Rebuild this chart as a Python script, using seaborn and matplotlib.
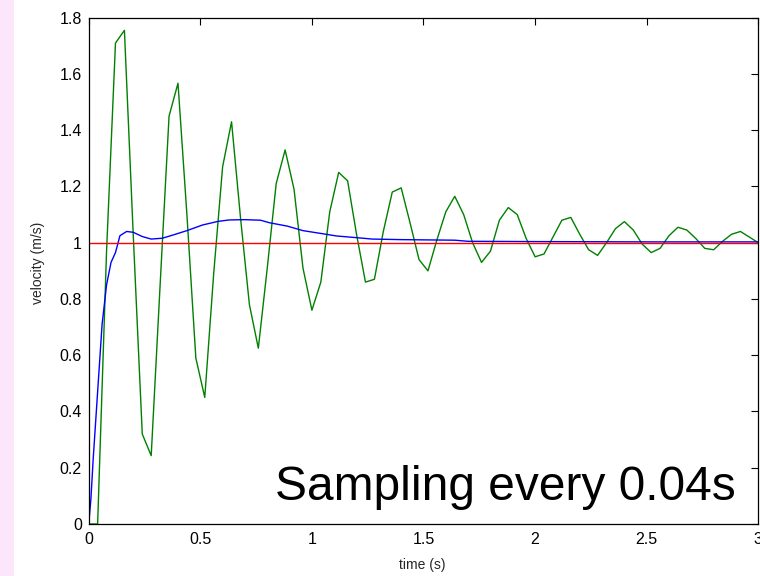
import numpy as np
import pandas as pd
import matplotlib
matplotlib.use("Agg")
import matplotlib.pyplot as plt
from matplotlib.patches import Rectangle
from matplotlib.ticker import FuncFormatter
import seaborn as sns

# ---- data ----
# sampled response (green), one value every 0.04 s from 0 to 3.0 s
sample_dt = 0.04
green_v = [0.0, 0.0, 0.97, 1.71, 1.755, 1.02, 0.32, 0.243, 0.85, 1.45,
           1.567, 1.10, 0.59, 0.45, 0.89, 1.27, 1.43, 1.09, 0.78, 0.625,
           0.91, 1.21, 1.33, 1.19, 0.91, 0.76, 0.86, 1.11, 1.25, 1.22,
           1.03, 0.86, 0.87, 1.04, 1.18, 1.195, 1.07, 0.94, 0.90, 1.01,
           1.11, 1.165, 1.10, 1.00, 0.93, 0.97, 1.08, 1.125, 1.10, 1.015,
           0.95, 0.96, 1.02, 1.08, 1.09, 1.03, 0.975, 0.955, 1.00, 1.05,
           1.075, 1.045, 0.995, 0.965, 0.98, 1.025, 1.055, 1.045, 1.015, 0.98,
           0.975, 1.005, 1.03, 1.04, 1.02, 1.00]
green_t = [round(i * sample_dt, 2) for i in range(len(green_v))]

# continuous response (blue)
blue_t = [0.0, 0.01, 0.02, 0.03, 0.04, 0.05, 0.06, 0.08, 0.10, 0.12,
          0.14, 0.17, 0.20, 0.24, 0.28, 0.33, 0.38, 0.44, 0.51, 0.58,
          0.63, 0.70, 0.77, 0.81, 0.89, 0.96, 1.04, 1.11, 1.20, 1.27,
          1.40, 1.64, 1.70, 2.0, 2.5, 3.0]
blue_v = [0.0, 0.09, 0.23, 0.35, 0.47, 0.59, 0.71, 0.85, 0.93, 0.965,
          1.025, 1.04, 1.037, 1.022, 1.013, 1.016, 1.028, 1.043, 1.063, 1.076,
          1.081, 1.082, 1.08, 1.071, 1.059, 1.043, 1.033, 1.024, 1.018, 1.013,
          1.011, 1.009, 1.005, 1.004, 1.003, 1.003]

# reference (red)
ref_t = [0.0, 3.0]
ref_v = [1.0, 1.0]

x_ticks = [0, 0.5, 1, 1.5, 2, 2.5, 3]
y_ticks = [0, 0.2, 0.4, 0.6, 0.8, 1.0, 1.2, 1.4, 1.6, 1.8]
x_label = "time (s)"
y_label = "velocity (m/s)"
note = "Sampling every 0.04s"

# ---- drawing ----
sns.set_style("white")
plt.rcParams['font.family'] = ['Liberation Sans', 'DejaVu Sans']

W, H = 760, 576
fig = plt.figure(figsize=(W / 100, H / 100), dpi=100)
fig.patch.set_facecolor("white")
fig.patches.append(Rectangle((0, 0), 14 / W, 1, transform=fig.transFigure,
                             facecolor="#FBE6FB", edgecolor="none", zorder=-1))

ax_l, ax_r = 88.7 / W, 758.3 / W
ax_b, ax_t = (H - 524) / H, (H - 17.7) / H
ax = fig.add_axes([ax_l, ax_b, ax_r - ax_l, ax_t - ax_b])

df_g = pd.DataFrame({"t": green_t, "v": green_v})
df_b = pd.DataFrame({"t": blue_t, "v": blue_v})
df_r = pd.DataFrame({"t": ref_t, "v": ref_v})

sns.lineplot(data=df_g, x="t", y="v", ax=ax, color="#008000", lw=1.0,
             estimator=None, sort=False)
sns.lineplot(data=df_b, x="t", y="v", ax=ax, color="#0000FF", lw=1.0,
             estimator=None, sort=False)
sns.lineplot(data=df_r, x="t", y="v", ax=ax, color="#FF0000", lw=1.0,
             estimator=None, sort=False)

ax.set_xlim(0, 3)
ax.set_ylim(0, 1.8)
ax.set_xticks(x_ticks)
ax.set_yticks(y_ticks)
fmt = FuncFormatter(lambda v, p: "%g" % v)
ax.xaxis.set_major_formatter(fmt)
ax.yaxis.set_major_formatter(fmt)
ax.tick_params(direction="in", length=5, width=0.8, top=True, right=True,
               labelsize=11.5, colors="black")
ax.tick_params(axis="x", pad=6)
ax.tick_params(axis="y", pad=5)
for s in ax.spines.values():
    s.set_visible(True)
    s.set_color("black")
    s.set_linewidth(0.9)

ax.set_xlabel(x_label, fontsize=10)
ax.set_ylabel(y_label, fontsize=10)
axw, axh = 758.3 - 88.7, 524 - 17.7
ax.xaxis.set_label_coords((422 - 88.7) / axw, (524 - 565) / axh)
ax.yaxis.set_label_coords((38 - 88.7) / axw, (524 - 263) / axh)
ax.xaxis.label.set_va("center")
ax.yaxis.label.set_va("center")

ax.text(275, H - 500, note, transform=None, fontsize=34.5, color="black",
        ha="left", va="baseline")

fig.savefig("out.png", dpi=100)
